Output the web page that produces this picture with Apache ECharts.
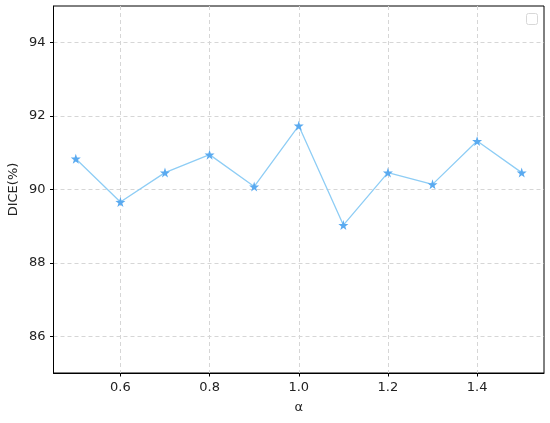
<!DOCTYPE html>
<html>
<head>
<meta charset="utf-8">
<script src="https://cdn.jsdelivr.net/npm/echarts@6/dist/echarts.min.js"></script>
<style>
  html, body { margin: 0; padding: 0; background: #fff; }
  #chart-container { width: 550px; height: 423px; }
</style>
</head>
<body>
<div id="chart-container"></div>
<script>
// α 取值与对应 DICE(%)
const alphaValues = [0.5, 0.6, 0.7, 0.8, 0.9, 1.0, 1.1, 1.2, 1.3, 1.4, 1.5];
const diceValues = [90.84, 89.66, 90.46, 90.95, 90.08, 91.74, 89.03, 90.46, 90.14, 91.32, 90.46];
const xTicks = [0.6, 0.8, 1.0, 1.2, 1.4];
const yTicks = [86, 88, 90, 92, 94];

document.addEventListener('DOMContentLoaded', () => {
    const chart = echarts.init(document.getElementById('chart-container'));
    const font = 'DejaVu Sans';

    const option = {
        backgroundColor: '#fff',
        animation: false,
        grid: {
            left: 53.5, right: 6, top: 6, bottom: 50,
            outerBoundsMode: 'none',
            containLabel: false,
            show: true,
            borderColor: '#000',
            borderWidth: 1,
        },
        xAxis: {
            type: 'value',
            min: 0.45,
            max: 1.55,
            name: 'α',
            nameLocation: 'middle',
            nameGap: 28,
            nameMoveOverlap: false,
            nameTextStyle: { fontFamily: font, fontSize: 13, color: '#222' },
            axisLine: { show: true, lineStyle: { color: '#000', width: 1 } },
            axisTick: { show: true, inside: false, length: 3.5, customValues: xTicks, lineStyle: { color: '#000' } },
            axisLabel: {
                customValues: xTicks,
                margin: 8,
                fontFamily: font, fontSize: 13, color: '#222',
                formatter: v => v.toFixed(1),
            },
            splitLine: {
                show: true,
                customValues: xTicks,
                lineStyle: { color: '#d6d6d6', type: [4, 3], width: 1 },
            },
        },
        yAxis: {
            type: 'value',
            min: 85,
            max: 95,
            interval: 1,
            name: 'DICE(%)',
            nameLocation: 'middle',
            nameGap: 33,
            nameMoveOverlap: false,
            nameTextStyle: { fontFamily: font, fontSize: 13, color: '#222' },
            axisLine: { show: true, lineStyle: { color: '#000', width: 1 } },
            axisTick: { show: true, inside: false, length: 3.5, customValues: yTicks, lineStyle: { color: '#000' } },
            axisLabel: {
                customValues: yTicks,
                margin: 8,
                fontFamily: font, fontSize: 13, color: '#222',
            },
            splitLine: {
                show: true,
                customValues: yTicks,
                lineStyle: { color: '#d6d6d6', type: [4, 3], width: 1 },
            },
        },
        // 空图例框（右上角）
        graphic: [{
            type: 'rect',
            right: 12,
            top: 13,
            shape: { width: 11, height: 11, r: 2 },
            style: { fill: '#fff', stroke: '#d8d8d8', lineWidth: 1 },
        }],
        series: [{
            type: 'line',
            data: alphaValues.map((a, i) => [a, diceValues[i]]),
            symbol: 'path://M50,0 L61.8,35.1 L98.5,35.5 L69.1,57.4 L79.4,90.5 L50,70 L20.6,90.5 L30.9,57.4 L1.5,35.5 L38.2,35.1 Z',
            symbolSize: 10,
            lineStyle: { color: '#8ecdf5', width: 1.3 },
            itemStyle: { color: '#5aaaf0' },
        }],
    };

    chart.setOption(option);
});
</script>
</body>
</html>
